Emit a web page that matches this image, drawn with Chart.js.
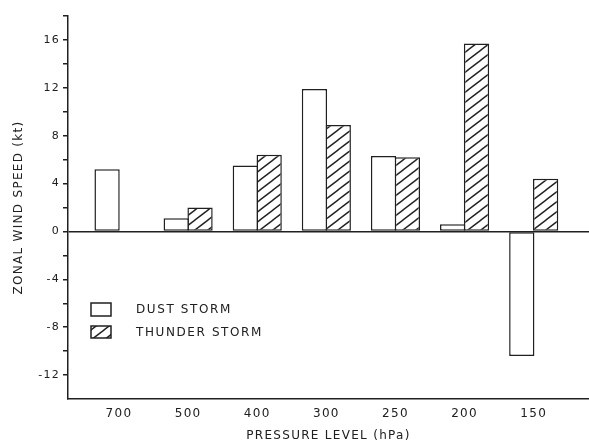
<!DOCTYPE html>
<html>
<head>
<meta charset="utf-8">
<script src="https://cdn.jsdelivr.net/npm/chart.js@4.4.1/dist/chart.umd.min.js"></script>
<style>
  html, body { margin: 0; padding: 0; background: #fff; }
  #wrap { width: 589px; height: 444px; }
</style>
</head>
<body>
<div id="wrap"><canvas id="c" width="589" height="444"></canvas></div>
<script>
// ---- data ----
const categories = ['700', '500', '400', '300', '250', '200', '150'];
const dustStorm = [5.2, 1.1, 5.5, 11.9, 6.3, 0.6, -10.4];
const thunderStorm = [null, 2.0, 6.4, 8.9, 6.2, 15.7, 4.4];
const yTickValues = [-12, -10, -8, -6, -4, -2, 0, 2, 4, 6, 8, 10, 12, 14, 16, 18];
const yTickLabels = ['-12', '', '-8', '', '-4', '', '0', '', '4', '', '8', '', '12', '', '16', ''];
const seriesLabels = ['DUST STORM', 'THUNDER STORM'];
const xTitle = 'PRESSURE LEVEL (hPa)';
const yTitle = 'ZONAL WIND SPEED (kt)';

const INK = '#202020';
const FONT = '"DejaVu Sans", sans-serif';

const canvas = document.getElementById('c');
const ctx = canvas.getContext('2d');

function makeHatch() {
  const w = 13, h = 10;
  const c = document.createElement('canvas');
  c.width = w; c.height = h;
  const g = c.getContext('2d');
  g.fillStyle = '#fff';
  g.fillRect(0, 0, w, h);
  g.strokeStyle = INK;
  g.lineWidth = 1.4;
  for (const n of [-1, 0, 1]) {
    g.beginPath();
    g.moveTo(-w, 2 * h + n * h);
    g.lineTo(2 * w, -h + n * h);
    g.stroke();
  }
  return ctx.createPattern(c, 'repeat');
}
const hatch = makeHatch();

const toPoints = arr => arr.map((v, i) => ({ x: i, y: v }));

const legendPlugin = {
  id: 'boxLegend',
  beforeDraw(chart) {
    chart.ctx.letterSpacing = '1.3px';
  },
  afterDraw(chart) {
    const c = chart.ctx;
    c.save();
    c.letterSpacing = '1.6px';
    const items = [
      { y: 303, h: 13 },
      { y: 326, h: 12 }
    ];
    chart.data.datasets.forEach((ds, i) => {
      const it = items[i];
      c.fillStyle = ds.backgroundColor;
      c.fillRect(91, it.y, 20, it.h);
      c.strokeStyle = INK;
      c.lineWidth = 1.5;
      c.strokeRect(91, it.y, 20, it.h);
      c.fillStyle = INK;
      c.font = '12px ' + FONT;
      c.textBaseline = 'middle';
      c.textAlign = 'left';
      c.fillText(ds.label, 136, it.y + it.h / 2 + 0.5);
    });
    c.restore();
  }
};

new Chart(canvas, {
  type: 'bar',
  data: {
    datasets: [
      {
        label: seriesLabels[0],
        data: toPoints(dustStorm),
        backgroundColor: '#fff',
        borderColor: INK,
        borderWidth: 1.5,
        borderSkipped: false
      },
      {
        label: seriesLabels[1],
        data: toPoints(thunderStorm),
        backgroundColor: hatch,
        borderColor: INK,
        borderWidth: 1.5,
        borderSkipped: false
      }
    ]
  },
  options: {
    responsive: false,
    animation: false,
    devicePixelRatio: 1,
    layout: { padding: { top: 16, left: 0, right: 0, bottom: 0 } },
    barPercentage: 1.06,
    categoryPercentage: 0.69,
    plugins: {
      legend: { display: false },
      tooltip: { enabled: false },
      title: { display: false }
    },
    scales: {
      x: {
        type: 'linear',
        offset: false,
        min: -0.738,
        max: 6.8,
        afterFit: s => { s.height = 45; },
        afterBuildTicks: s => { s.ticks = categories.map((_, i) => ({ value: i })); },
        grid: { display: false, drawTicks: false, offset: false },
        border: { display: true, color: INK, width: 1.5 },
        ticks: {
          autoSkip: false,
          maxRotation: 0,
          padding: 8,
          color: INK,
          font: { family: FONT, size: 12 },
          callback: v => categories[v]
        },
        title: {
          display: true,
          text: xTitle,
          color: INK,
          font: { family: FONT, size: 12 },
          padding: { top: 0, bottom: 1 }
        }
      },
      y: {
        type: 'linear',
        min: -14,
        max: 18,
        afterFit: s => { s.width = 68; },
        afterBuildTicks: s => { s.ticks = yTickValues.map(v => ({ value: v })); },
        grid: {
          drawOnChartArea: true,
          drawTicks: true,
          tickLength: 5,
          color: c => (c.tick && c.tick.value === 0 ? INK : 'rgba(0,0,0,0)'),
          tickColor: INK,
          lineWidth: 1.5
        },
        border: { display: true, color: INK, width: 1.5 },
        ticks: {
          padding: 3,
          color: INK,
          font: { family: FONT, size: 11 },
          callback: (v) => {
            const k = yTickValues.indexOf(v);
            return k >= 0 ? yTickLabels[k] : '';
          }
        },
        title: {
          display: true,
          text: yTitle,
          color: INK,
          font: { family: FONT, size: 12 },
          padding: { top: 12, bottom: 0 }
        }
      }
    }
  },
  plugins: [legendPlugin]
});
</script>
</body>
</html>
